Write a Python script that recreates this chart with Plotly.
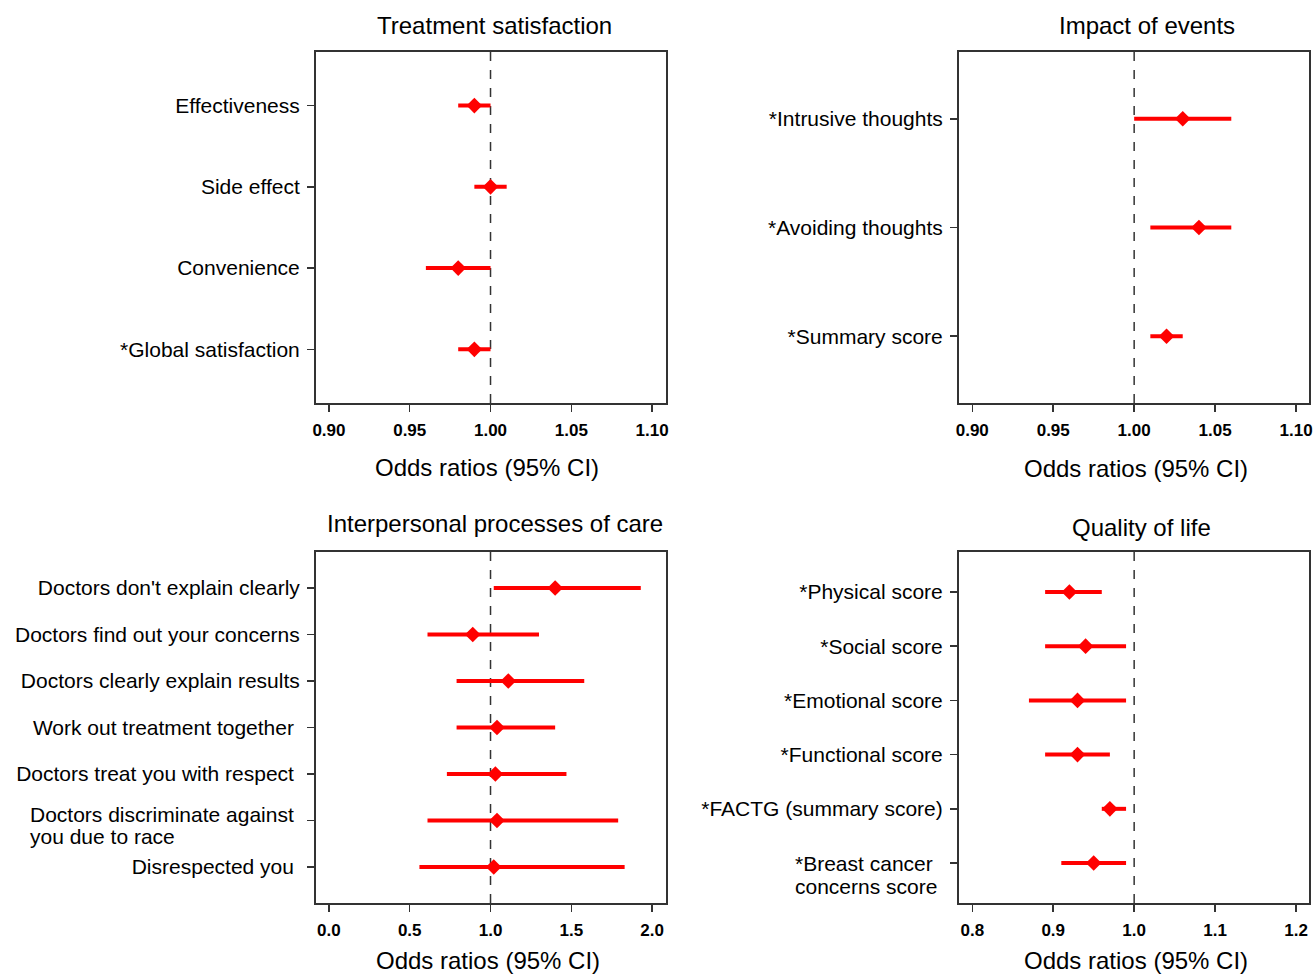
import plotly.graph_objects as go

# ---------------- data ----------------
ts_labels = ["Effectiveness", "Side effect", "Convenience", "*Global satisfaction"]
ts_or = [0.99, 1.00, 0.98, 0.99]
ts_lo = [0.98, 0.99, 0.96, 0.98]
ts_hi = [1.00, 1.01, 1.00, 1.00]

ie_labels = ["*Intrusive thoughts", "*Avoiding thoughts", "*Summary score"]
ie_or = [1.03, 1.04, 1.02]
ie_lo = [1.00, 1.01, 1.01]
ie_hi = [1.06, 1.06, 1.03]

# multi-line labels are given as lists of lines
ip_labels = ["Doctors don't explain clearly", "Doctors find out your concerns",
             "Doctors clearly explain results", "Work out treatment together ",
             "Doctors treat you with respect ", ["Doctors discriminate against", "you due to race"],
             "Disrespected you "]
ip_or = [1.40, 0.89, 1.11, 1.04, 1.03, 1.04, 1.02]
ip_lo = [1.02, 0.61, 0.79, 0.79, 0.73, 0.61, 0.56]
ip_hi = [1.93, 1.30, 1.58, 1.40, 1.47, 1.79, 1.83]

ql_labels = ["*Physical score", "*Social score", "*Emotional score", "*Functional score",
             "*FACTG (summary score)", ["*Breast cancer", "concerns score"]]
ql_or = [0.92, 0.94, 0.93, 0.93, 0.97, 0.95]
ql_lo = [0.89, 0.89, 0.87, 0.89, 0.96, 0.91]
ql_hi = [0.96, 0.99, 0.99, 0.97, 0.99, 0.99]

titles = ["Treatment satisfaction", "Impact of events", "Interpersonal processes of care", "Quality of life"]
x_title = "Odds ratios (95% CI)"

ts_ticks = [0.90, 0.95, 1.00, 1.05, 1.10]
ie_ticks = [0.90, 0.95, 1.00, 1.05, 1.10]
ip_ticks = [0.0, 0.5, 1.0, 1.5, 2.0]
ql_ticks = [0.8, 0.9, 1.0, 1.1, 1.2]

# ---------------- figure ----------------
W, H = 1316, 974
FONT = "Liberation Sans, Arial, sans-serif"
RED = "#ff0000"
FRAME = "#333333"
LABEL_SIZE = 21

panels = [
    dict(labels=ts_labels, orv=ts_or, lo=ts_lo, hi=ts_hi, ticks=ts_ticks, fmt=".2f",
         xr=[0.892, 1.1086], pad=0.66, px=(316, 666), py=(52, 403),
         title_xy=(495, 25), xt_xy=(487, 467), ml=None),
    dict(labels=ie_labels, orv=ie_or, lo=ie_lo, hi=ie_hi, ticks=ie_ticks, fmt=".2f",
         xr=[0.8918, 1.108], pad=0.614, px=(959, 1309), py=(52, 403),
         title_xy=(1147, 25), xt_xy=(1136, 468), ml=None),
    dict(labels=ip_labels, orv=ip_or, lo=ip_lo, hi=ip_hi, ticks=ip_ticks, fmt=".1f",
         xr=[-0.08, 2.086], pad=0.774, px=(316, 666), py=(552, 903),
         title_xy=(495, 523), xt_xy=(488, 960), ml=dict(x=28, shifts=[6, -16])),
    dict(labels=ql_labels, orv=ql_or, lo=ql_lo, hi=ql_hi, ticks=ql_ticks, fmt=".1f",
         xr=[0.7836, 1.216], pad=0.737, px=(959, 1309), py=(552, 903),
         title_xy=(1141, 527), xt_xy=(1136, 960), ml=dict(x=793, shifts=[0, -23])),
]

fig = go.Figure()
layout = dict(
    width=W, height=H, margin=dict(l=0, r=0, t=0, b=0),
    paper_bgcolor="white", plot_bgcolor="white", showlegend=False,
    font=dict(family=FONT, color="black"), hovermode=False,
)
shapes = []
annotations = []

for i, p in enumerate(panels, start=1):
    n = len(p["labels"])
    ys = list(range(1, n + 1))
    sx = "" if i == 1 else str(i)
    xa, ya = "x" + sx, "y" + sx
    fig.add_trace(go.Scatter(
        x=p["orv"], y=ys, xaxis=xa, yaxis=ya, mode="markers",
        marker=dict(symbol="diamond", size=12, color=RED),
        error_x=dict(type="data", symmetric=False,
                     array=[h - o for h, o in zip(p["hi"], p["orv"])],
                     arrayminus=[o - l for o, l in zip(p["orv"], p["lo"])],
                     color=RED, thickness=4, width=0),
        hoverinfo="skip",
    ))
    tick_text = []
    for k, lab in enumerate(p["labels"]):
        if isinstance(lab, list):
            tick_text.append("")
            for line, sh in zip(lab, p["ml"]["shifts"]):
                annotations.append(dict(text=line, xref="paper", yref=ya, x=p["ml"]["x"] / W, y=ys[k],
                                        xanchor="left", yanchor="middle", yshift=sh, showarrow=False,
                                        font=dict(family=FONT, size=LABEL_SIZE, color="black")))
        else:
            tick_text.append(lab)
    x0, x1 = p["px"]
    y0, y1 = p["py"]
    layout["xaxis" + sx] = dict(
        domain=[x0 / W, x1 / W], anchor=ya, range=p["xr"],
        tickmode="array", tickvals=p["ticks"], tickformat=p["fmt"],
        ticks="outside", ticklen=7, tickwidth=1.5, tickcolor=FRAME,
        showline=True, linecolor=FRAME, linewidth=2, mirror=True,
        showgrid=False, zeroline=False, automargin=False,
        tickfont=dict(family=FONT, size=17, color="black", weight="bold"),
        ticklabelstandoff=4,
    )
    layout["yaxis" + sx] = dict(
        domain=[1 - y1 / H, 1 - y0 / H], anchor=xa,
        range=[n + p["pad"], 1 - p["pad"]],
        tickmode="array", tickvals=ys, ticktext=tick_text,
        ticks="outside", ticklen=7, tickwidth=1.5, tickcolor=FRAME,
        showline=True, linecolor=FRAME, linewidth=2, mirror=True,
        showgrid=False, zeroline=False, automargin=False,
        tickfont=dict(family=FONT, size=LABEL_SIZE, color="black"),
        ticklabelstandoff=3,
    )
    shapes.append(dict(type="line", xref=xa, yref=ya + " domain", x0=1, x1=1, y0=0, y1=1,
                       line=dict(color=FRAME, width=1.5, dash="dash"), layer="below"))
    tx, ty = p["title_xy"]
    annotations.append(dict(text=titles[i - 1], xref="paper", yref="paper",
                            x=tx / W, y=1 - ty / H, xanchor="center", yanchor="middle",
                            showarrow=False, font=dict(family=FONT, size=24, color="black")))
    ax, ay = p["xt_xy"]
    annotations.append(dict(text=x_title, xref="paper", yref="paper",
                            x=ax / W, y=1 - ay / H, xanchor="center", yanchor="middle",
                            showarrow=False, font=dict(family=FONT, size=24, color="black")))

layout["shapes"] = shapes
layout["annotations"] = annotations
fig.update_layout(**layout)
fig.write_html("out.html", config={"displayModeBar": False, "staticPlot": True},
               post_script="document.body.style.margin='0px';document.body.style.overflow='hidden';")
